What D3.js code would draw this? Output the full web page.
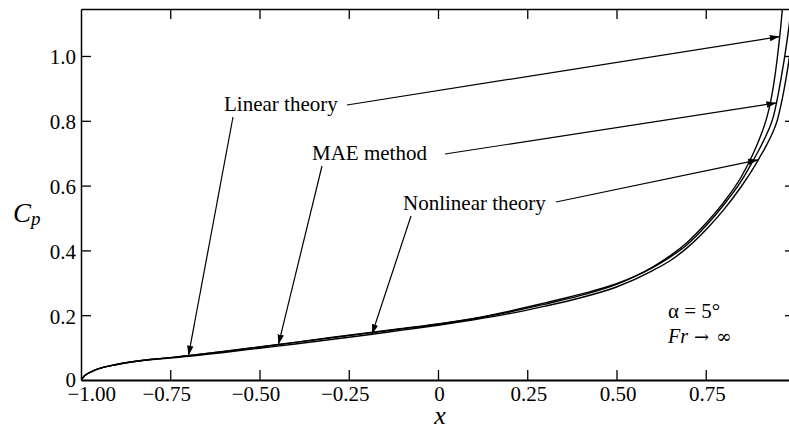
<!DOCTYPE html>
<html>
<head>
<meta charset="utf-8">
<script src="https://cdn.jsdelivr.net/npm/d3@7"></script>
<style>
  body { margin: 0; background: #fff; }
  svg { display: block; }
  text { font-family: "Liberation Serif", "Times New Roman", serif; fill: #000; }
</style>
</head>
<body>
<svg id="chart" width="789" height="430"></svg>
<script>
// Chordwise stations and pressure coefficient for the three methods
const xs = [-1, -0.99, -0.97, -0.95, -0.9, -0.85, -0.8, -0.75, -0.7, -0.6, -0.5, -0.4, -0.3, -0.2, -0.1, 0,
            0.1, 0.2, 0.3, 0.4, 0.5, 0.6, 0.65, 0.7, 0.75, 0.8, 0.85, 0.88, 0.9, 0.92, 0.93, 0.94, 0.95, 0.96, 0.97, 0.98, 0.99];
const cpLinear = [0, 0.013, 0.026, 0.035, 0.048, 0.057, 0.064, 0.069, 0.075, 0.088, 0.102, 0.116, 0.130, 0.144, 0.158, 0.172,
                  0.189, 0.210, 0.234, 0.261, 0.295, 0.348, 0.383, 0.427, 0.483, 0.548, 0.628, 0.692, 0.743, 0.806, 0.850, 0.910, 0.990, 1.090, 1.210, 1.350, 1.500];
const cpMAE = [0, 0.013, 0.026, 0.035, 0.048, 0.057, 0.064, 0.069, 0.075, 0.088, 0.102, 0.116, 0.131, 0.145, 0.159, 0.173,
               0.190, 0.212, 0.238, 0.265, 0.297, 0.346, 0.379, 0.420, 0.475, 0.540, 0.615, 0.672, 0.712, 0.757, 0.782, 0.815, 0.865, 0.925, 0.990, 1.065, 1.150];
const cpNonlinear = [0, 0.013, 0.026, 0.035, 0.048, 0.057, 0.063, 0.068, 0.073, 0.085, 0.098, 0.111, 0.125, 0.139, 0.154, 0.169,
                     0.186, 0.205, 0.228, 0.254, 0.287, 0.337, 0.368, 0.410, 0.463, 0.525, 0.598, 0.648, 0.685, 0.724, 0.746, 0.770, 0.800, 0.845, 0.900, 0.965, 1.040];

const seriesNames = ["Linear theory", "MAE method", "Nonlinear theory"];
// x stations on each curve that the label arrows point to
const arrowLeftX = [-0.699, -0.447, -0.185];
const arrowRightX = [0.957, 0.948, 0.897];

const xTicks = [-1, -0.75, -0.5, -0.25, 0, 0.25, 0.5, 0.75];
const xTickLabels = ["\u22121.00", "\u22120.75", "\u22120.50", "\u22120.25", "0", "0.25", "0.50", "0.75"];
const yTicks = [0, 0.2, 0.4, 0.6, 0.8, 1.0];
const yTickLabels = ["0", "0.2", "0.4", "0.6", "0.8", "1.0"];

const series = [cpLinear, cpMAE, cpNonlinear];

const svg = d3.select("#chart");
const plotL = 81, plotT = 9, plotR = 795, plotB = 380;

const x = d3.scaleLinear().domain([-1, 1]).range([plotL, plotR]);
const y = d3.scaleLinear().domain([0, 1.145]).range([plotB, plotT]);

// arrowhead
const defs = svg.append("defs");
defs.append("marker")
  .attr("id", "arrow")
  .attr("viewBox", "0 -4 10 8")
  .attr("refX", 10).attr("refY", 0)
  .attr("markerWidth", 10).attr("markerHeight", 8)
  .attr("markerUnits", "userSpaceOnUse")
  .attr("orient", "auto")
  .append("path").attr("d", "M0,-3.2L10,0L0,3.2Z").attr("fill", "#000");

defs.append("clipPath").attr("id", "plot")
  .append("rect").attr("x", plotL).attr("y", plotT).attr("width", plotR - plotL).attr("height", plotB - plotT);

// curves
const line = d3.line()
  .x((d, i) => x(xs[i]))
  .y(d => y(d))
  .curve(d3.curveMonotoneX);

svg.append("g").attr("clip-path", "url(#plot)")
  .selectAll("path").data(series).join("path")
  .attr("d", line)
  .attr("fill", "none")
  .attr("stroke", "#000")
  .attr("stroke-width", 1.4);

// axes: ticks point inward on all four sides
const fmtX = d => xTickLabels[xTicks.indexOf(d)];
const fmtY = d => yTickLabels[yTicks.indexOf(d)];

const gx = svg.append("g").attr("transform", `translate(0,${plotB})`)
  .call(d3.axisBottom(x).tickValues(xTicks).tickFormat(fmtX).tickSizeInner(-10).tickSizeOuter(0));
const gxTop = svg.append("g").attr("transform", `translate(0,${plotT})`)
  .call(d3.axisTop(x).tickValues(xTicks.slice(1)).tickFormat("").tickSizeInner(-10).tickSizeOuter(0));
const gy = svg.append("g").attr("transform", `translate(${plotL},0)`)
  .call(d3.axisLeft(y).tickValues(yTicks).tickFormat(fmtY).tickSizeInner(-10).tickSizeOuter(0));
const gyRight = svg.append("g").attr("transform", `translate(${plotR},0)`)
  .call(d3.axisRight(y).tickValues(yTicks.slice(1)).tickFormat("").tickSizeInner(-10).tickSizeOuter(0));

[gx, gxTop, gy, gyRight].forEach(g => {
  g.attr("font-family", null).attr("font-size", null);
  g.select(".domain").attr("stroke", "#000").attr("stroke-width", 1.5);
  g.selectAll(".tick line").attr("stroke", "#000").attr("stroke-width", 1.3);
});
gx.select(".domain").attr("stroke-width", 2);

gx.selectAll(".tick text")
  .attr("font-size", 21)
  .attr("y", 21).attr("dy", 0)
  .attr("text-anchor", d => d === -1 ? "start" : "middle")
  .attr("x", d => d === -1 ? -14 : (d < 0 ? -4 : 1));
gy.selectAll(".tick text")
  .attr("font-size", 21)
  .attr("x", -5).attr("dy", d => d === 0 ? 6 : 8);
gy.selectAll(".tick line").filter(d => d === 0).remove();
gx.selectAll(".tick line").filter(d => d === -1).remove();

// axis titles
svg.append("text")
  .attr("x", 440).attr("y", 424)
  .attr("text-anchor", "middle")
  .attr("font-size", 26).attr("font-style", "italic")
  .text("x");
const cp = svg.append("text").attr("x", 13).attr("y", 222).attr("font-size", 27).attr("font-style", "italic");
cp.append("tspan").text("C");
cp.append("tspan").attr("font-size", 19).attr("dy", 3).text("p");

// series labels with arrows to both ends of the curves
const interp = (arr, xv) => {
  const i = d3.bisectRight(xs, xv) - 1;
  const t = (xv - xs[i]) / (xs[i + 1] - xs[i]);
  return arr[i] + t * (arr[i + 1] - arr[i]);
};
const labelLayout = [
  { tx: 224, ty: 111, rightFrom: [347, 105], downFrom: [233, 117] },
  { tx: 312, ty: 160, rightFrom: [445, 154], downFrom: [322, 166] },
  { tx: 403, ty: 210, rightFrom: [556, 202], downFrom: [411, 216] }
];
seriesNames.forEach((name, k) => {
  const L = labelLayout[k];
  svg.append("text").attr("x", L.tx).attr("y", L.ty).attr("font-size", 21).text(name);
  const tipR = [x(arrowRightX[k]), y(interp(series[k], arrowRightX[k]))];
  const tipL = [x(arrowLeftX[k]), y(interp(series[k], arrowLeftX[k]))];
  [[L.rightFrom, tipR], [L.downFrom, tipL]].forEach(([a, b]) => {
    svg.append("line")
      .attr("x1", a[0]).attr("y1", a[1]).attr("x2", b[0]).attr("y2", b[1])
      .attr("stroke", "#000").attr("stroke-width", 1.2)
      .attr("marker-end", "url(#arrow)");
  });
});

// flow conditions
svg.append("text").attr("x", 668).attr("y", 318).attr("font-size", 21).text("\u03B1 = 5\u00B0");
const fr = svg.append("text").attr("x", 668).attr("y", 343).attr("font-size", 20);
fr.append("tspan").attr("font-style", "italic").text("Fr");
fr.append("tspan").attr("dx", 6).attr("font-family", "DejaVu Serif").attr("font-size", 18).text("\u2192");
fr.append("tspan").attr("dx", 7).attr("font-family", "DejaVu Serif").attr("font-size", 19).text("\u221E");
</script>
</body>
</html>
